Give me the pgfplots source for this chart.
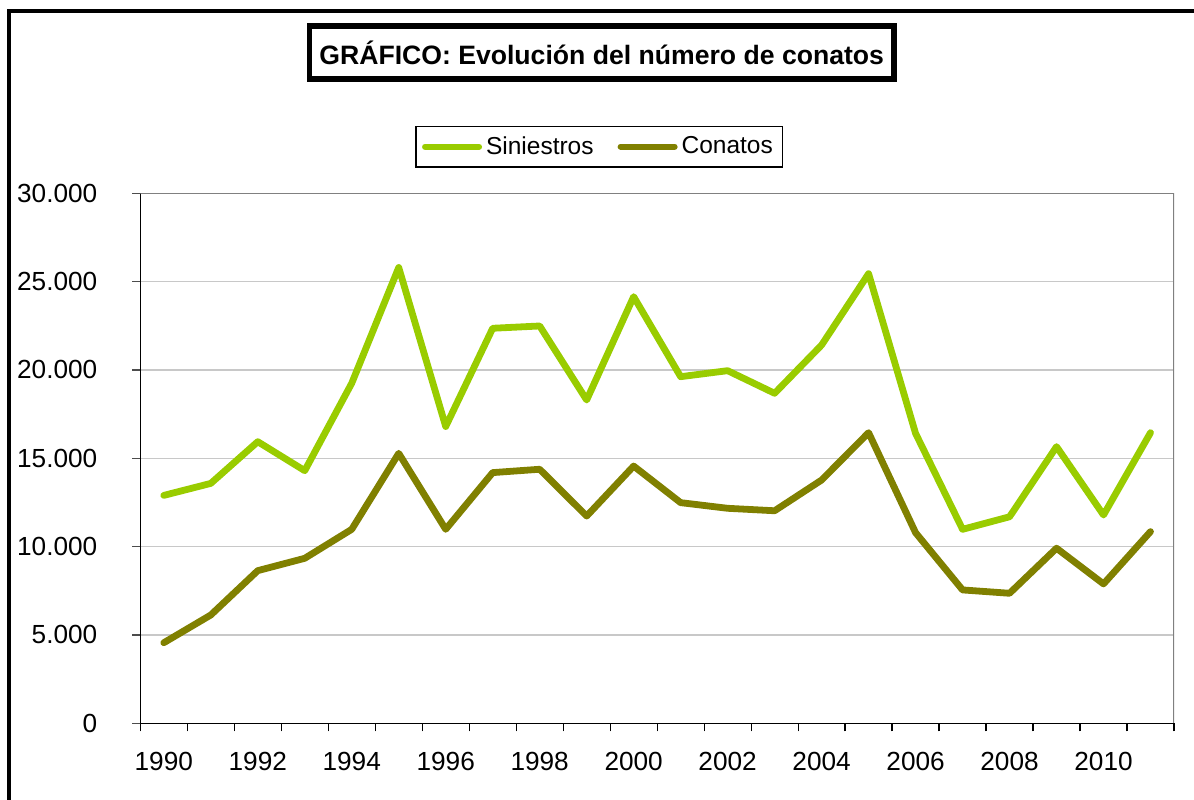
\documentclass[border=0pt]{standalone}
\usepackage{fontspec}
\setmainfont{Liberation Sans}
\usepackage{pgfplots}
\pgfplotsset{compat=1.18}
\definecolor{sinGreen}{HTML}{99CC00}
\definecolor{conOlive}{HTML}{808000}
\definecolor{gridGray}{HTML}{C8C8C8}
\definecolor{boxGray}{HTML}{808080}
\begin{document}
\begin{tikzpicture}
\begin{axis}[
  at={(70.15pt,37.85pt)}, anchor=south west,
  scale only axis, width=516.85pt, height=265pt,
  xmin=-0.5, xmax=21.5, ymin=0, ymax=30000,
  axis lines=left, axis line style={-, black, line width=0.6pt},
  tick align=outside,
  xtick={0,2,...,20},
  xticklabels={1990,1992,1994,1996,1998,2000,2002,2004,2006,2008,2010},
  minor xtick={-0.5,0.5,...,21.5},
  major x tick style={draw=none},
  minor tick length=4pt,
  minor x tick style={black, line width=0.6pt},
  ytick={0,5000,...,30000},
  major tick length=4pt,
  y tick style={black!70, line width=0.6pt},
  scaled y ticks=false,
  /pgf/number format/.cd, 1000 sep={.}, assume math mode=true, /pgfplots/.cd,
  ymajorgrids, major grid style={gridGray, line width=0.6pt},
  ticklabel style={font=\fontsize{13.1}{15}\selectfont, inner sep=0pt},
  xticklabel style={anchor=north, yshift=-10.2pt},
  yticklabel style={anchor=east, xshift=-17.3pt},
  legend columns=2,
  legend image code/.code={\draw[line width=3pt, line cap=round] (0pt,0pt) -- (27pt,0pt);},
  legend style={at={(0.4442,1.0879)}, anchor=center, draw=black, line width=0.6pt,
    font=\fontsize{12.25}{14}\selectfont, inner xsep=3pt, inner ysep=3pt,
    /tikz/every even column/.append style={column sep=10pt}},
  legend cell align=left,
]
\addplot[color=sinGreen, line width=3.4pt, line join=round, line cap=round] coordinates {
(0,12900) (1,13580) (2,15940) (3,14300) (4,19250) (5,25800) (6,16800) (7,22360)
(8,22490) (9,18300) (10,24150) (11,19620) (12,19960) (13,18680) (14,21410)
(15,25450) (16,16410) (17,10980) (18,11690) (19,15660) (20,11790) (21,16450)};
\addlegendentry{Siniestros}
\addplot[color=conOlive, line width=3.4pt, line join=round, line cap=round] coordinates {
(0,4560) (1,6130) (2,8640) (3,9340) (4,10980) (5,15280) (6,10980) (7,14190)
(8,14380) (9,11730) (10,14560) (11,12490) (12,12170) (13,12030) (14,13770)
(15,16450) (16,10790) (17,7550) (18,7360) (19,9910) (20,7890) (21,10850)};
\addlegendentry{Conatos}
\draw[boxGray, line width=0.6pt] (rel axis cs:0,1) -- (rel axis cs:1,1) -- (rel axis cs:1,0);
\end{axis}
\node[draw=black, line width=2.8pt, minimum width=292.2pt, minimum height=26.4pt,
  inner sep=0pt, font=\fontsize{13.3}{16}\selectfont\bfseries] at (300.85pt,373.25pt)
  {GRÁFICO: Evolución del número de conatos};
\draw[line width=1.8pt] (4.35pt,-5pt) -- (4.35pt,394pt) -- (610pt,394pt);
\pgfresetboundingbox
\useasboundingbox (0pt,0pt) rectangle (597pt,399.5pt);
\end{tikzpicture}
\end{document}
